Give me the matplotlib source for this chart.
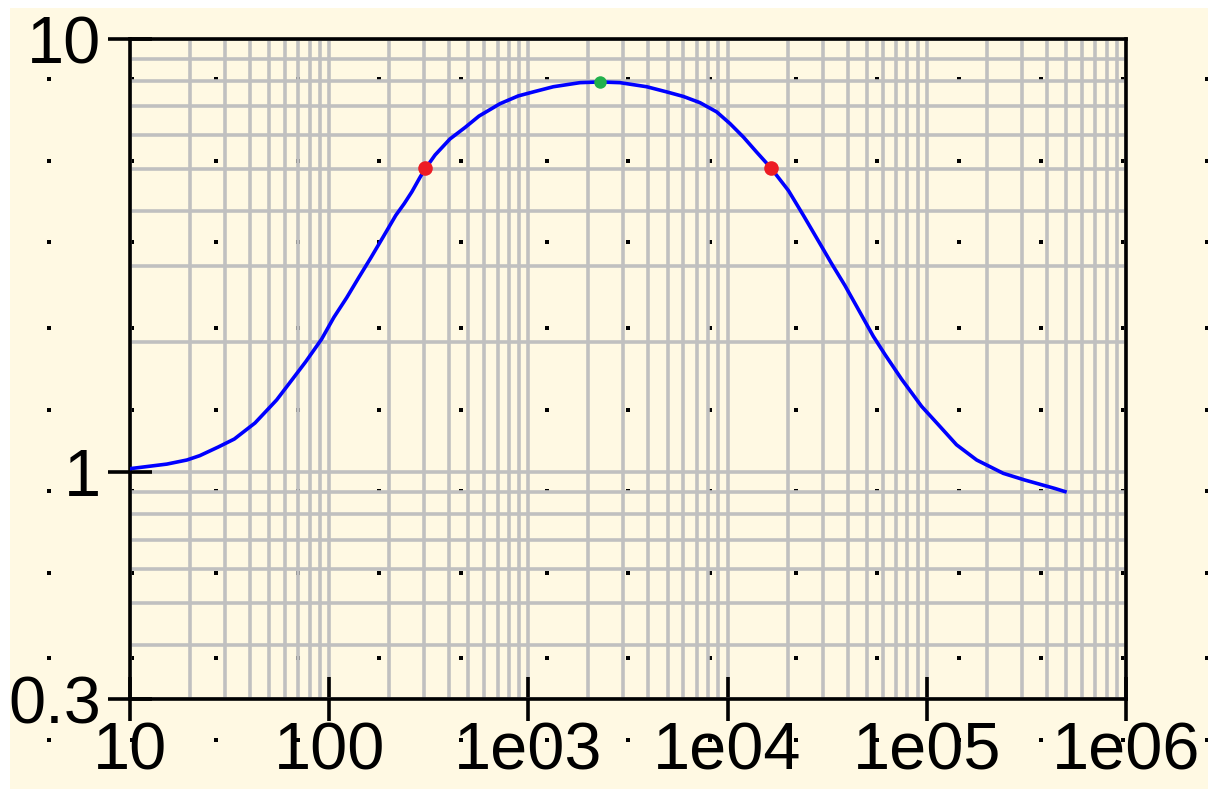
import numpy as np
import matplotlib
matplotlib.use("Agg")
import matplotlib.pyplot as plt
from matplotlib.ticker import FixedLocator, FixedFormatter, LogLocator, NullFormatter
from matplotlib.lines import Line2D
from matplotlib.patches import Rectangle

# curve (frequency, magnitude)
freq = [10, 15.3, 19.3, 22.4, 27.7, 33.4, 42.4, 50.5, 54.5, 66, 76.2, 91.6, 105.6,
        122.4, 141, 162, 187, 216, 238, 260, 286, 302, 340, 404, 481, 565, 720,
        889, 1059, 1334, 1816, 2286, 2884, 3925, 4946, 5995, 7267, 8810, 10280,
        12000, 14000, 16440, 20200, 24000, 29100, 33300, 38800, 44800, 53900,
        61700, 74800, 94200, 114000, 141000, 178000, 242000, 311000, 440000, 494000]
mag = [1.02, 1.045, 1.068, 1.093, 1.144, 1.194, 1.30, 1.416, 1.47, 1.65, 1.80, 2.03,
       2.28, 2.53, 2.82, 3.13, 3.50, 3.92, 4.17, 4.44, 4.80, 5.00, 5.40, 5.88, 6.25,
       6.64, 7.09, 7.39, 7.55, 7.76, 7.93, 7.96, 7.93, 7.76, 7.55, 7.37, 7.13, 6.79,
       6.38, 5.94, 5.48, 5.05, 4.47, 3.92, 3.37, 3.03, 2.70, 2.40, 2.06, 1.87, 1.64,
       1.42, 1.29, 1.158, 1.068, 0.995, 0.960, 0.918, 0.903]

# cut-off points (red) and peak (green)
cut_f = [302, 16440]
cut_v = [5.05, 5.05]
peak_f = [2286]
peak_v = [7.96]

xticks = [10, 100, 1e3, 1e4, 1e5, 1e6]
xlabels = ["10", "100", "1e03", "1e04", "1e05", "1e06"]
yticks = [0.3, 1, 10]
ylabels = ["0.3", "1", "10"]

# background dot raster (pixel positions of the form grid)
dot_cols = [49, 132, 216, 298, 379, 461, 547, 628, 710, 796, 877, 959, 1041, 1123, 1207]
dot_rows = [79, 161, 242, 328, 410, 491, 573, 658, 740]

W, H = 1208, 789
cream = "#FFF9E3"

fig = plt.figure(figsize=(W / 100, H / 100), dpi=100, facecolor="white")
fig.patches.append(Rectangle((10 / W, 0), 1 - 10 / W, 1 - 8 / H,
                             transform=fig.transFigure, facecolor=cream,
                             edgecolor="none", zorder=-10))

# dots sit under everything drawn by the axes
gx, gy = np.meshgrid(dot_cols, dot_rows)
fig.add_artist(Line2D(gx.ravel() / W, 1 - gy.ravel() / H, transform=fig.transFigure,
                      linestyle="none", marker="s", markersize=2.6,
                      markeredgewidth=0, color="black", zorder=-5))

ax = fig.add_axes([130 / W, 1 - 699 / H, (1126 - 130) / W, (699 - 39) / H])
ax.set_facecolor("none")
ax.set_xscale("log")
ax.set_yscale("log")
ax.set_xlim(10, 1e6)
ax.set_ylim(0.3, 10)

ax.xaxis.set_major_locator(FixedLocator(xticks))
ax.xaxis.set_major_formatter(FixedFormatter(xlabels))
ax.xaxis.set_minor_locator(LogLocator(base=10, subs=np.arange(2, 10), numticks=100))
ax.xaxis.set_minor_formatter(NullFormatter())
ax.yaxis.set_major_locator(FixedLocator(yticks))
ax.yaxis.set_major_formatter(FixedFormatter(ylabels))
ax.yaxis.set_minor_locator(LogLocator(base=10, subs=np.arange(2, 10), numticks=100))
ax.yaxis.set_minor_formatter(NullFormatter())

ax.grid(which="both", color="#C0C0C0", linewidth=2.6, zorder=0)
ax.set_axisbelow(True)

ax.tick_params(which="major", direction="inout", length=31.7, width=2.6,
               colors="black", labelsize=48)
ax.tick_params(which="minor", length=0)
ax.tick_params(axis="x", pad=0)
ax.tick_params(axis="y", pad=5)
for lab in ax.get_xticklabels() + ax.get_yticklabels():
    lab.set_fontfamily("Liberation Sans")

for sp in ax.spines.values():
    sp.set_linewidth(2.6)
    sp.set_color("black")

ax.plot(freq, mag, color="#0000FF", linewidth=2.6, zorder=3)
ax.plot(cut_f, cut_v, "o", color="#ED1C24", markersize=10.5, markeredgewidth=0, zorder=4)
ax.plot(peak_f, peak_v, "o", color="#22B14C", markersize=9, markeredgewidth=0, zorder=4)

fig.savefig("out.png", dpi=100, facecolor=fig.get_facecolor())
